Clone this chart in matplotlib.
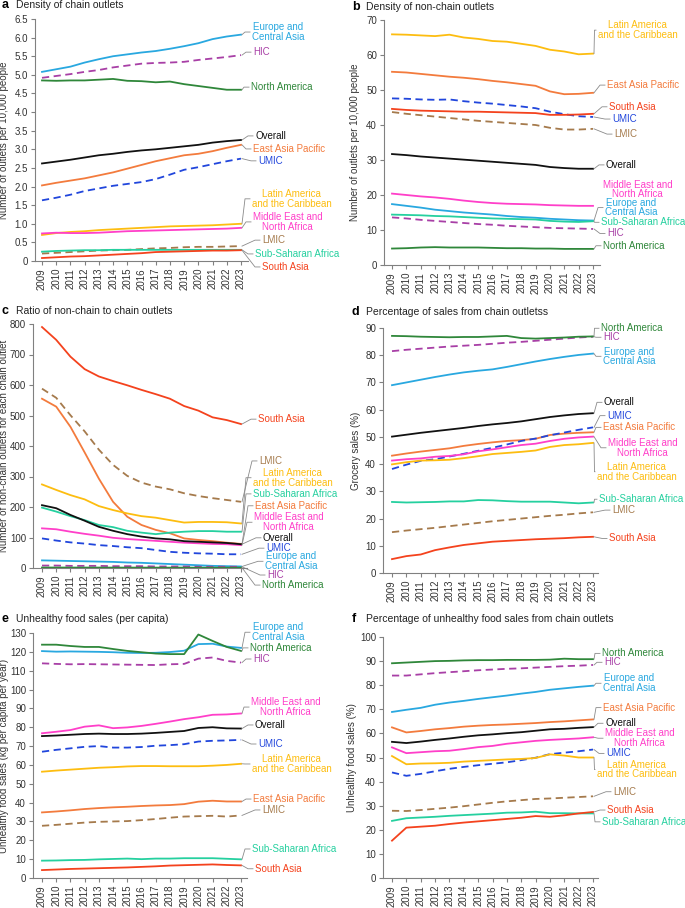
import numpy as np
import matplotlib.pyplot as plt

plt.rcParams['font.family'] = ['Liberation Sans', 'DejaVu Sans']
plt.rcParams['font.size'] = 7

years = np.arange(2009, 2024)

# a: density of chain outlets (per 10,000 people)
chain_density = {
    'eca': [5.08, 5.15, 5.22, 5.33, 5.42, 5.50, 5.55, 5.60, 5.64, 5.70, 5.77, 5.85, 5.96, 6.03, 6.08],
    'hic': [4.92, 4.97, 5.02, 5.08, 5.13, 5.20, 5.25, 5.30, 5.32, 5.33, 5.35, 5.40, 5.44, 5.48, 5.53],
    'nam': [4.85, 4.84, 4.85, 4.85, 4.87, 4.89, 4.84, 4.83, 4.80, 4.82, 4.75, 4.70, 4.65, 4.60, 4.60],
    'overall': [2.62, 2.67, 2.72, 2.78, 2.84, 2.88, 2.93, 2.97, 3.00, 3.04, 3.08, 3.12, 3.18, 3.22, 3.25],
    'eap': [2.03, 2.10, 2.16, 2.22, 2.30, 2.38, 2.48, 2.58, 2.68, 2.76, 2.84, 2.88, 2.95, 3.04, 3.12],
    'umic': [1.63, 1.70, 1.78, 1.88, 1.95, 2.02, 2.07, 2.12, 2.20, 2.32, 2.45, 2.52, 2.60, 2.68, 2.75],
    'lac': [0.70, 0.75, 0.78, 0.80, 0.83, 0.85, 0.87, 0.89, 0.91, 0.93, 0.94, 0.95, 0.96, 0.98, 1.00],
    'mena': [0.74, 0.76, 0.75, 0.75, 0.76, 0.78, 0.80, 0.81, 0.82, 0.83, 0.84, 0.85, 0.86, 0.87, 0.89],
    'lmic': [0.20, 0.22, 0.24, 0.26, 0.28, 0.29, 0.30, 0.32, 0.34, 0.35, 0.37, 0.38, 0.38, 0.39, 0.40],
    'ssa': [0.25, 0.27, 0.28, 0.29, 0.29, 0.30, 0.30, 0.30, 0.30, 0.30, 0.30, 0.30, 0.30, 0.30, 0.30],
    'sas': [0.08, 0.10, 0.12, 0.13, 0.15, 0.17, 0.19, 0.21, 0.24, 0.25, 0.26, 0.27, 0.28, 0.28, 0.29],
}

# b: density of non-chain outlets
nonchain_density = {
    'lac': [65.9, 65.8, 65.6, 65.4, 65.8, 65.0, 64.6, 64.0, 63.8, 63.2, 62.6, 61.5, 61.0, 60.2, 60.4],
    'eap': [55.2, 55.0, 54.6, 54.2, 53.8, 53.5, 53.1, 52.6, 52.2, 51.7, 51.2, 49.6, 48.8, 48.9, 49.2],
    'umic': [47.6, 47.5, 47.3, 47.2, 47.3, 46.8, 46.4, 46.1, 45.7, 45.3, 44.8, 43.8, 43.1, 42.5, 42.3],
    'sas': [44.6, 44.3, 44.1, 44.0, 43.9, 43.8, 43.8, 43.7, 43.6, 43.5, 43.4, 42.9, 42.9, 43.0, 43.2],
    'lmic': [43.7, 43.2, 42.8, 42.4, 42.0, 41.6, 41.2, 40.9, 40.6, 40.3, 40.0, 39.2, 38.7, 38.7, 38.9],
    'overall': [31.7, 31.4, 31.0, 30.7, 30.4, 30.1, 29.8, 29.5, 29.2, 28.9, 28.6, 28.0, 27.7, 27.5, 27.5],
    'mena': [20.4, 20.0, 19.6, 19.3, 18.9, 18.4, 18.0, 17.7, 17.5, 17.4, 17.3, 17.1, 17.0, 16.9, 16.9],
    'eca': [17.4, 16.9, 16.4, 15.8, 15.4, 15.0, 14.7, 14.4, 14.0, 13.7, 13.5, 13.2, 13.0, 12.8, 12.7],
    'ssa': [14.4, 14.3, 14.2, 14.0, 13.9, 13.7, 13.5, 13.3, 13.2, 13.1, 13.0, 12.6, 12.4, 12.3, 12.5],
    'hic': [13.6, 13.3, 12.9, 12.6, 12.3, 12.0, 11.7, 11.5, 11.2, 11.0, 10.8, 10.6, 10.5, 10.4, 10.3],
    'nam': [4.7, 4.8, 5.0, 5.1, 5.0, 5.0, 5.0, 4.9, 4.8, 4.8, 4.7, 4.7, 4.6, 4.6, 4.6],
}

# c: ratio of non-chain to chain outlets
ratio = {
    'sas': [790, 748, 693, 652, 628, 613, 599, 584, 570, 555, 531, 516, 494, 485, 472],
    'lmic': [588, 558, 501, 448, 388, 338, 302, 280, 267, 258, 245, 236, 229, 223, 217],
    'eap': [555, 529, 463, 379, 293, 217, 168, 141, 125, 114, 97, 92, 88, 83, 79],
    'lac': [274, 256, 239, 225, 203, 190, 179, 170, 165, 157, 149, 151, 151, 150, 146],
    'ssa': [198, 185, 170, 157, 141, 134, 122, 116, 111, 116, 119, 121, 121, 119, 119],
    'overall': [206, 196, 174, 155, 135, 122, 111, 103, 97, 94, 88, 86, 84, 82, 78],
    'mena': [130, 127, 119, 112, 106, 99, 95, 92, 89, 86, 83, 81, 79, 78, 75],
    'umic': [97, 90, 84, 80, 75, 72, 68, 65, 59, 53, 50, 48, 47, 45, 45],
    'eca': [25, 24, 23, 22, 21, 20, 18, 17, 15, 13, 11, 9, 7, 6, 5],
    'hic': [8, 8, 7, 7, 7, 6, 6, 6, 5, 5, 5, 4, 4, 4, 4],
    'nam': [1.5, 1.5, 1.4, 1.4, 1.4, 1.3, 1.3, 1.3, 1.2, 1.2, 1.2, 1.1, 1.1, 1.1, 1.1],
}

# d: percentage of grocery sales from chain outlets
chain_sales = {
    'nam': [87.1, 87.0, 86.8, 86.7, 86.6, 86.7, 86.7, 86.9, 87.1, 86.3, 86.1, 86.3, 86.5, 86.8, 86.9],
    'hic': [81.5, 82.0, 82.4, 82.8, 83.2, 83.5, 83.8, 84.2, 84.6, 84.9, 85.3, 85.7, 86.1, 86.5, 86.8],
    'eca': [69.0, 70.0, 71.0, 72.0, 72.9, 73.7, 74.3, 74.8, 75.7, 76.7, 77.7, 78.6, 79.4, 80.1, 80.6],
    'overall': [50.1, 50.8, 51.5, 52.1, 52.7, 53.3, 54.0, 54.6, 55.1, 55.7, 56.5, 57.3, 57.9, 58.4, 58.7],
    'umic': [38.2, 39.8, 41.2, 41.8, 42.8, 43.8, 44.9, 46.0, 47.2, 48.5, 49.4, 50.6, 51.6, 52.6, 53.5],
    'eap': [43.1, 43.9, 44.6, 45.2, 45.8, 46.7, 47.4, 48.0, 48.5, 48.8, 49.3, 50.7, 51.2, 51.5, 51.7],
    'mena': [41.3, 41.8, 42.1, 42.7, 43.0, 43.6, 44.7, 45.4, 46.2, 47.0, 47.5, 48.5, 49.3, 49.8, 50.1],
    'lac': [39.9, 40.7, 41.3, 41.4, 41.6, 42.2, 42.9, 43.7, 44.1, 44.5, 45.0, 46.3, 47.0, 47.3, 47.8],
    'ssa': [26.1, 25.9, 26.0, 26.1, 26.3, 26.3, 26.8, 26.7, 26.4, 26.2, 26.2, 26.2, 25.9, 25.6, 25.9],
    'lmic': [15.0, 15.6, 16.1, 16.6, 17.2, 17.8, 18.4, 19.0, 19.5, 20.0, 20.5, 21.0, 21.4, 21.9, 22.3],
    'sas': [5.1, 6.2, 6.8, 8.4, 9.4, 10.3, 10.9, 11.5, 11.8, 12.1, 12.4, 12.6, 12.8, 13.1, 13.3],
}

# e: unhealthy food sales (kg per capita per year)
unhealthy_kg = {
    'nam': [123.8, 123.8, 123.1, 122.6, 122.6, 121.5, 120.5, 119.8, 119.1, 118.8, 118.8, 129.2, 125.8, 122.6, 120.5],
    'eca': [120.4, 120.1, 120.2, 120.1, 120.0, 119.8, 119.5, 119.4, 119.5, 119.9, 120.6, 124.1, 124.3, 122.8, 122.1],
    'hic': [113.9, 113.6, 113.4, 113.5, 113.4, 113.3, 113.2, 113.1, 113.0, 113.4, 113.6, 116.4, 117.0, 115.2, 114.3],
    'mena': [76.8, 77.6, 78.5, 80.3, 81.0, 79.5, 79.9, 80.7, 81.8, 83.0, 84.3, 85.3, 86.6, 86.8, 87.3],
    'overall': [75.3, 75.6, 76.0, 76.4, 76.6, 76.4, 76.4, 76.6, 77.0, 77.5, 78.0, 79.6, 80.0, 79.4, 79.3],
    'umic': [67.0, 68.0, 68.8, 69.6, 70.0, 69.2, 69.2, 69.5, 70.2, 70.5, 71.0, 72.4, 72.8, 73.0, 73.3],
    'lac': [56.4, 57.0, 57.5, 58.0, 58.5, 58.8, 59.2, 59.4, 59.4, 59.3, 59.3, 59.3, 59.6, 60.0, 60.6],
    'eap': [34.8, 35.3, 35.9, 36.6, 37.1, 37.5, 37.8, 38.2, 38.5, 38.7, 39.2, 40.5, 41.0, 40.6, 40.6],
    'lmic': [27.7, 28.2, 28.8, 29.4, 29.8, 30.0, 30.2, 30.7, 31.3, 32.0, 32.6, 32.8, 33.0, 32.6, 33.2],
    'ssa': [9.2, 9.3, 9.5, 9.6, 9.9, 10.1, 10.3, 10.0, 10.3, 10.3, 10.5, 10.5, 10.5, 10.2, 9.9],
    'sas': [4.2, 4.5, 4.8, 5.0, 5.2, 5.4, 5.6, 5.9, 6.2, 6.6, 6.8, 7.0, 7.2, 6.9, 6.7],
}

# f: percentage of unhealthy food sales from chain outlets
unhealthy_pct = {
    'nam': [89.1, 89.4, 89.7, 90.0, 90.1, 90.3, 90.4, 90.4, 90.5, 90.5, 90.5, 90.6, 91.0, 90.8, 90.8],
    'hic': [84.0, 84.0, 84.5, 85.0, 85.4, 85.8, 86.2, 86.5, 86.8, 87.0, 87.3, 87.6, 87.9, 88.1, 88.4],
    'eca': [68.9, 69.8, 70.6, 71.9, 72.8, 73.5, 74.3, 75.0, 75.7, 76.5, 77.2, 78.1, 78.7, 79.3, 79.8],
    'eap': [62.5, 60.4, 61.0, 61.7, 62.2, 62.8, 63.2, 63.5, 63.7, 64.0, 64.3, 64.7, 65.0, 65.4, 65.8],
    'overall': [56.5, 56.0, 56.6, 57.3, 57.9, 58.6, 59.2, 59.6, 60.1, 60.5, 61.1, 61.7, 61.9, 62.3, 62.6],
    'mena': [54.2, 51.8, 52.2, 52.6, 52.8, 53.5, 54.3, 54.8, 55.7, 56.3, 56.9, 57.3, 57.6, 57.9, 58.4],
    'lac': [50.6, 47.2, 47.5, 47.6, 47.8, 48.3, 48.6, 48.9, 49.2, 49.4, 49.8, 51.3, 50.8, 50.0, 50.0],
    'umic': [43.8, 42.4, 43.2, 44.3, 45.3, 46.1, 46.8, 47.4, 48.0, 48.9, 49.9, 51.4, 52.0, 52.6, 53.3],
    'lmic': [27.9, 27.8, 28.2, 28.7, 29.2, 29.8, 30.5, 31.2, 31.8, 32.3, 32.8, 33.0, 33.3, 33.6, 33.9],
    'ssa': [23.7, 24.8, 25.1, 25.4, 25.8, 26.1, 26.4, 26.7, 27.1, 27.2, 27.5, 26.9, 26.9, 26.8, 26.8],
    'sas': [15.5, 20.9, 21.3, 21.7, 22.4, 23.0, 23.5, 24.0, 24.5, 25.0, 25.7, 25.4, 26.0, 26.8, 27.4],
}

names = {
    'eca': 'Europe and\nCentral Asia', 'hic': 'HIC', 'nam': 'North America',
    'overall': 'Overall', 'eap': 'East Asia Pacific', 'umic': 'UMIC',
    'lac': 'Latin America\nand the Caribbean', 'mena': 'Middle East and\nNorth Africa',
    'lmic': 'LMIC', 'ssa': 'Sub-Saharan Africa', 'sas': 'South Asia',
}
colors = {
    'eca': '#29a8e0', 'hic': '#a83fa6', 'nam': '#2f873a', 'overall': '#111111',
    'eap': '#f37b3d', 'umic': '#2146dc', 'lac': '#fdbd10', 'mena': '#ff3fc9',
    'lmic': '#a57a4c', 'ssa': '#25d09f', 'sas': '#f4421d',
}
dashed = {'hic', 'umic', 'lmic'}
order = ['eca', 'hic', 'nam', 'eap', 'umic', 'lac', 'mena', 'lmic', 'ssa', 'sas', 'overall']

# label placement: (y in data units, text offset in px right of the 2023 tick)
labels_a = {'eca': (6.15, 11), 'hic': (5.61, 12), 'nam': (4.67, 10), 'overall': (3.36, 14),
            'eap': (3.01, 12), 'umic': (2.69, 17), 'lac': (1.67, 11), 'mena': (1.05, 12),
            'lmic': (0.56, 21), 'ssa': (0.19, 14), 'sas': (-0.16, 21)}
labels_b = {'lac': (67.1, 5), 'eap': (51.4, 14), 'sas': (45.2, 16), 'umic': (41.7, 19),
            'lmic': (37.4, 21), 'overall': (28.6, 13), 'mena': (21.6, 10), 'eca': (16.4, 12),
            'ssa': (12.2, 8), 'hic': (9.0, 14), 'nam': (5.5, 10)}
labels_c = {'sas': (488, 17), 'lmic': (351, 18), 'lac': (296, 12), 'ssa': (243, 12),
            'eap': (204, 14), 'mena': (150, 13), 'overall': (99, 22), 'umic': (65, 25),
            'eca': (22, 24), 'hic': (-23, 26), 'nam': (-56, 21)}
labels_d = {'nam': (89.9, 8), 'hic': (86.6, 10), 'eca': (79.6, 10), 'overall': (62.7, 11),
            'umic': (57.8, 14), 'eap': (53.5, 10), 'mena': (46.0, 15), 'lac': (37.2, 4),
            'ssa': (27.1, 6), 'lmic': (23.1, 19), 'sas': (12.7, 16)}
labels_e = {'eca': (130.4, 11), 'nam': (122.1, 9), 'hic': (116.2, 12), 'mena': (90.7, 10),
            'overall': (81.2, 14), 'umic': (71.1, 17), 'lac': (60.5, 11), 'eap': (41.9, 12),
            'lmic': (36.1, 21), 'ssa': (15.4, 11), 'sas': (4.9, 14)}
labels_f = {'nam': (93.2, 9), 'hic': (89.5, 11), 'eca': (80.8, 10), 'eap': (70.7, 10),
            'overall': (64.2, 12), 'mena': (58.0, 12), 'umic': (51.7, 13), 'lac': (45.0, 4),
            'lmic': (35.8, 20), 'sas': (28.2, 14), 'ssa': (23.3, 9)}

W, H = 685, 908
fig = plt.figure(figsize=(W / 100, H / 100), dpi=100)


def panel(box, letter, title, ylabel, series, ymax, ystep, labels, no_leader=(), decimals=False):
    left, right, top, bottom, x09, x23, lab_x, title_y = box
    ax = fig.add_axes([left / W, 1 - bottom / H, (right - left) / W, (bottom - top) / H])
    ppy = (x23 - x09) / 14
    ax.set_xlim(2009 - (x09 - left) / ppy, 2023 + (right - x23) / ppy)
    ax.set_ylim(0, ymax)

    for key in order:
        ls = (0, (4, 2.5)) if key in dashed else '-'
        ax.plot(years, series[key], color=colors[key], lw=1.3, ls=ls)
        ly, tx = labels[key]
        if key not in no_leader:
            xs = [2023 + 1 / ppy, 2023 + max(1.5, tx - 7) / ppy, 2023 + (tx - 2) / ppy]
            ax.plot(xs, [series[key][-1], ly, ly], color='#8a8a8a', lw=0.6, clip_on=False)
        ax.text(2023 + tx / ppy, ly, names[key], color=colors[key], fontsize=7,
                va='center', ha='left', multialignment='center', linespacing=0.95,
                clip_on=False)

    ticks = np.arange(0, ymax + ystep / 2, ystep)
    ax.set_yticks(ticks)
    if decimals:
        ax.set_yticklabels(['0' if t == 0 else f'{t:.1f}' for t in ticks])
    ax.set_xticks(years)
    ax.set_xticklabels(years, rotation=90)
    for s in ['top', 'right']:
        ax.spines[s].set_visible(False)
    for s in ['left', 'bottom']:
        ax.spines[s].set_color('#808080')
        ax.spines[s].set_linewidth(0.8)
    ax.tick_params(color='#808080', labelcolor='#333333', length=3, width=0.8,
                   labelsize=7, pad=2)
    ax.set_ylabel(ylabel, fontsize=7, color='#333333')
    ax.yaxis.set_label_coords((lab_x - left) / (right - left), 0.5)

    lx = 2 if left < 300 else 352
    fig.text(lx / W, 1 - title_y / H, letter, fontsize=9, fontweight='bold', va='center')
    fig.text((lx + 14) / W, 1 - title_y / H, title, fontsize=7.5, color='#222222', va='center')
    return ax


panel((35, 248, 19, 261, 42, 241, 9, 5), 'a', 'Density of chain outlets',
      'Number of outlets per 10,000 people', chain_density, 6.5, 0.5, labels_a, decimals=True)
panel((384, 600, 20, 265, 392, 593, 360, 6.5), 'b', 'Density of non-chain outlets',
      'Number of outlets per 10,000 people', nonchain_density, 70, 10, labels_b,
      no_leader=('mena',))
panel((33, 247, 324, 568, 42, 241, 9, 311.5), 'c', 'Ratio of non-chain to chain outlets',
      'Number of non-chain outlets for each chain outlet', ratio, 800, 100, labels_c)
panel((383, 598, 328, 573, 392, 593, 361, 312), 'd', 'Percentage of sales from chain outletss',
      'Grocery sales (%)', chain_sales, 90, 10, labels_d)
panel((33, 247, 633, 878, 42, 241, 9, 619), 'e', 'Unhealthy food sales (per capita)',
      'Unhealthy food sales (kg per capita per year)', unhealthy_kg, 130, 10, labels_e)
panel((383, 598, 637, 878, 392, 593, 357, 619), 'f', 'Percentage of unhealthy food sales from chain outlets',
      'Unhealthy food sales (%)', unhealthy_pct, 100, 10, labels_f)

fig.savefig('out.png', dpi=100)
